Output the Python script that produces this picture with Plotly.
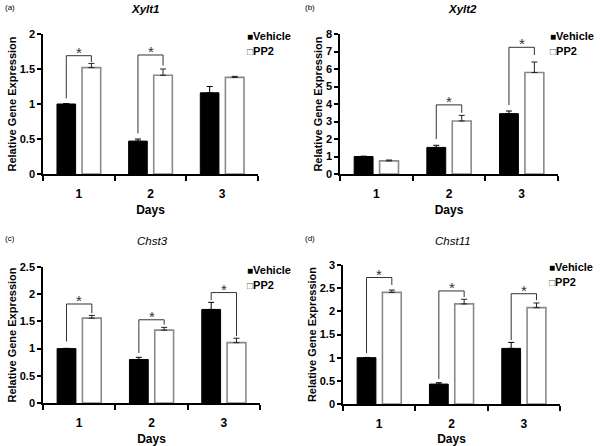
import plotly.graph_objects as go

# ---------------- data ----------------
days = [1, 2, 3]
day_labels = ["1", "2", "3"]

xylt1_vehicle = [1.0, 0.47, 1.16]
xylt1_vehicle_err = [0.005, 0.03, 0.09]
xylt1_pp2 = [1.52, 1.41, 1.38]
xylt1_pp2_err = [0.06, 0.09, 0.015]
xylt1_sig_days = [1, 2]
xylt1_sig_level = [1.69, 1.70]
xylt1_sig_left = [1.08, 0.58]
xylt1_sig_right = [1.60, 1.55]

xylt2_vehicle = [1.0, 1.52, 3.45]
xylt2_vehicle_err = [0.02, 0.12, 0.15]
xylt2_pp2 = [0.75, 3.03, 5.8]
xylt2_pp2_err = [0.05, 0.32, 0.6]
xylt2_sig_days = [2, 3]
xylt2_sig_level = [3.95, 7.24]
xylt2_sig_left = [2.0, 3.94]
xylt2_sig_right = [3.5, 6.8]

chst3_vehicle = [1.0, 0.8, 1.72]
chst3_vehicle_err = [0.005, 0.04, 0.13]
chst3_pp2 = [1.56, 1.34, 1.11]
chst3_pp2_err = [0.05, 0.05, 0.08]
chst3_sig_days = [1, 2, 3]
chst3_sig_level = [1.82, 1.53, 2.03]
chst3_sig_left = [1.13, 0.92, 1.89]
chst3_sig_right = [1.65, 1.44, 1.23]

chst11_vehicle = [1.0, 0.43, 1.2]
chst11_vehicle_err = [0.005, 0.03, 0.13]
chst11_pp2 = [2.41, 2.16, 2.08]
chst11_pp2_err = [0.05, 0.1, 0.1]
chst11_sig_days = [1, 2, 3]
chst11_sig_level = [2.73, 2.44, 2.38]
chst11_sig_left = [1.1, 0.54, 1.38]
chst11_sig_right = [2.57, 2.31, 2.24]

y_ranges = {"a": 2, "b": 8, "c": 2.5, "d": 3}
y_dticks = {"a": 0.5, "b": 1, "c": 0.5, "d": 0.5}

# ---------------- layout helpers ----------------
W, H = 600, 446
FONT = "Arial, Liberation Sans, sans-serif"

panels = [
    dict(key="a", label="(a)", title="Xylt1", bold=True,
         veh=xylt1_vehicle, veh_err=xylt1_vehicle_err, pp2=xylt1_pp2, pp2_err=xylt1_pp2_err,
         sd=xylt1_sig_days, sl=xylt1_sig_level, sL=xylt1_sig_left, sR=xylt1_sig_right,
         px=(43, 258), py=(34, 174), title_xy=(145, 9), label_xy=(3, 7), leg_xy=(245, 36)),
    dict(key="b", label="(b)", title="Xylt2", bold=True,
         veh=xylt2_vehicle, veh_err=xylt2_vehicle_err, pp2=xylt2_pp2, pp2_err=xylt2_pp2_err,
         sd=xylt2_sig_days, sl=xylt2_sig_level, sL=xylt2_sig_left, sR=xylt2_sig_right,
         px=(340, 558), py=(34, 174), title_xy=(462, 9), label_xy=(303, 7), leg_xy=(548, 36)),
    dict(key="c", label="(c)", title="Chst3", bold=False,
         veh=chst3_vehicle, veh_err=chst3_vehicle_err, pp2=chst3_pp2, pp2_err=chst3_pp2_err,
         sd=chst3_sig_days, sl=chst3_sig_level, sL=chst3_sig_left, sR=chst3_sig_right,
         px=(43, 260), py=(267, 403), title_xy=(152, 241), label_xy=(3, 238), leg_xy=(245, 270)),
    dict(key="d", label="(d)", title="Chst11", bold=False,
         veh=chst11_vehicle, veh_err=chst11_vehicle_err, pp2=chst11_pp2, pp2_err=chst11_pp2_err,
         sd=chst11_sig_days, sl=chst11_sig_level, sL=chst11_sig_left, sR=chst11_sig_right,
         px=(343, 560), py=(265, 404), title_xy=(453, 241), label_xy=(303, 238), leg_xy=(547, 267)),
]

BAR_W = 0.26
HALF = 0.175  # distance of bar centre from day centre

fig = go.Figure()
annotations = []
layout = dict(
    width=W, height=H,
    margin=dict(l=0, r=0, t=0, b=0, autoexpand=False),
    paper_bgcolor="white", plot_bgcolor="white",
    showlegend=False,
    barmode="overlay",
    font=dict(family=FONT, color="black"),
)

for i, p in enumerate(panels):
    n = "" if i == 0 else str(i + 1)
    xa, ya = "x" + n, "y" + n
    zeros = [0] * len(days)

    fig.add_trace(go.Bar(
        x=days, y=p["veh"], xaxis=xa, yaxis=ya, name="Vehicle",
        width=BAR_W, offset=-HALF - BAR_W / 2,
        marker=dict(color="black", line=dict(color="black", width=1)),
        error_y=dict(type="data", symmetric=False, array=p["veh_err"], arrayminus=zeros,
                     color="black", thickness=1, width=3),
    ))
    fig.add_trace(go.Bar(
        x=days, y=p["pp2"], xaxis=xa, yaxis=ya, name="PP2",
        width=BAR_W, offset=HALF - BAR_W / 2,
        marker=dict(color="white", line=dict(color="#8a8a8a", width=1.6)),
        error_y=dict(type="data", symmetric=False, array=p["pp2_err"], arrayminus=zeros,
                     color="#222222", thickness=1, width=3),
    ))
    # significance brackets
    bx, by = [], []
    for d, lv, l, r in zip(p["sd"], p["sl"], p["sL"], p["sR"]):
        bx += [d - HALF, d - HALF, d + HALF, d + HALF, None]
        by += [l, lv, lv, r, None]
        annotations.append(dict(
            x=d, y=lv, xref=xa, yref=ya, text="*", showarrow=False,
            yanchor="bottom", yshift=-7,
            font=dict(size=15, color="#333333", family=FONT)))
    fig.add_trace(go.Scatter(x=bx, y=by, xaxis=xa, yaxis=ya, mode="lines",
                             line=dict(color="#333333", width=1), hoverinfo="skip"))

    xd = [p["px"][0] / W, p["px"][1] / W]
    yd = [1 - p["py"][1] / H, 1 - p["py"][0] / H]
    layout["xaxis" + n] = dict(
        domain=xd, anchor=ya, range=[0.5, 3.5], automargin=False,
        tickvals=days, ticktext=day_labels, ticks="",
        tickfont=dict(size=12, family=FONT, weight="bold"),
        minor=dict(tickvals=[0.5, 1.5, 2.5, 3.5], ticks="outside", ticklen=5,
                   tickcolor="black", tickwidth=1.5),
        showline=True, linecolor="black", linewidth=1.5,
        showgrid=False, zeroline=False, ticklabelstandoff=8,
        title=dict(text="Days", font=dict(size=12, family=FONT, weight="bold"), standoff=5),
    )
    layout["yaxis" + n] = dict(
        domain=yd, anchor=xa, range=[0, y_ranges[p["key"]]], automargin=False,
        dtick=y_dticks[p["key"]], tick0=0,
        ticks="outside", ticklen=4, tickwidth=1.5, tickcolor="black",
        tickfont=dict(size=11, family=FONT, weight="bold"),
        showline=True, linecolor="black", linewidth=1.5,
        showgrid=False, zeroline=False,
        title=dict(text="Relative Gene Expression",
                   font=dict(size=11, family=FONT, weight="bold"), standoff=1),
    )

    # panel label and gene title
    annotations.append(dict(x=p["label_xy"][0] / W, y=1 - p["label_xy"][1] / H, xref="paper", yref="paper",
                            text=p["label"], showarrow=False, xanchor="left", yanchor="middle",
                            font=dict(size=8, family=FONT)))
    annotations.append(dict(x=p["title_xy"][0] / W, y=1 - p["title_xy"][1] / H, xref="paper", yref="paper",
                            text=p["title"], showarrow=False, xanchor="center", yanchor="middle",
                            font=dict(size=11.5, family=FONT, style="italic",
                                      weight="bold" if p["bold"] else "normal")))
    # legend (drawn as text)
    lx, ly = p["leg_xy"]
    annotations.append(dict(x=lx / W, y=1 - ly / H, xref="paper", yref="paper",
                            text="<span style='font-size:10px'>■</span>Vehicle", showarrow=False,
                            xanchor="left", yanchor="middle",
                            font=dict(size=11, family=FONT, weight="bold")))
    annotations.append(dict(x=lx / W, y=1 - (ly + 15) / H, xref="paper", yref="paper",
                            text="<span style='font-size:10px;color:#555'>□</span>PP2", showarrow=False,
                            xanchor="left", yanchor="middle",
                            font=dict(size=11, family=FONT, weight="bold")))

layout["annotations"] = annotations
fig.update_layout(**layout)
fig.write_html("out.html", config={"displayModeBar": False},
               post_script="document.body.style.margin='0';")
